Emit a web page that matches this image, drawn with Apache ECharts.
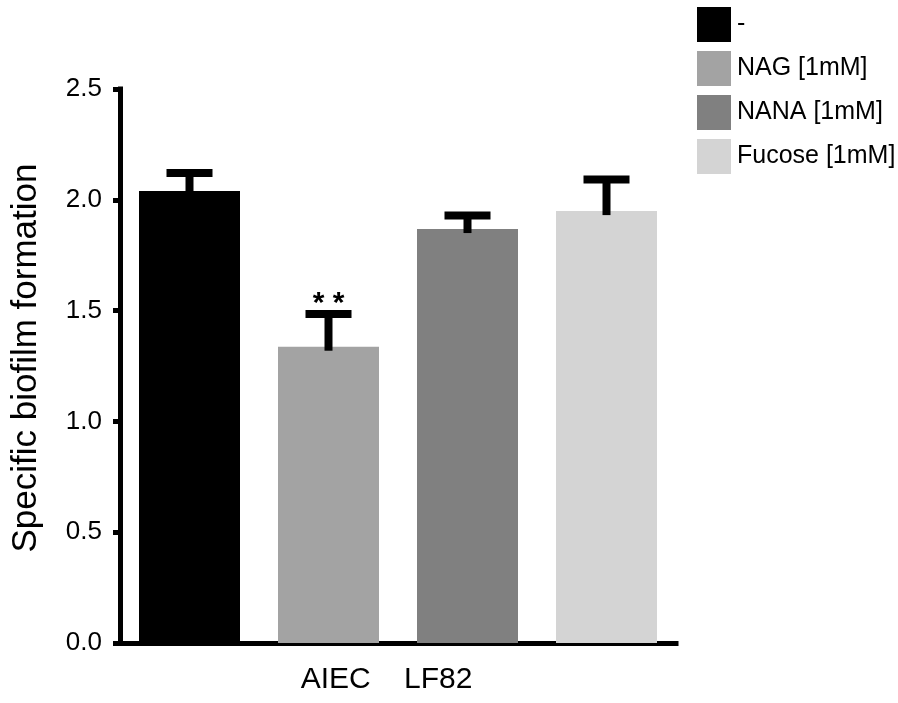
<!DOCTYPE html>
<html>
<head>
<meta charset="utf-8">
<script src="https://cdn.jsdelivr.net/npm/echarts@6/dist/echarts.min.js"></script>
<style>
html,body{margin:0;padding:0;background:#fff;}
#chart{width:898px;height:703px;}
</style>
</head>
<body>
<div id="chart"></div>
<script>
// ---- data ----
var groups = ['-', 'NAG [1mM]', 'NANA [1mM]', 'Fucose [1mM]'];
var means = [2.04, 1.337, 1.868, 1.949];
var errUpper = [0.081, 0.148, 0.061, 0.143];
var annotations = ['', '* *', '', ''];
var xTitle = 'AIEC    LF82';
var yTitle = 'Specific biofilm formation';
var yMin = 0, yMax = 2.5, yInterval = 0.5;

// ---- styles ----
var colors = ['#000000', '#a3a3a3', '#808080', '#d4d4d4'];
var FONT = 'Liberation Sans, Arial, Helvetica, sans-serif';

var chart = echarts.init(document.getElementById('chart'), null, {renderer: 'canvas'});

var barSeries = groups.map(function (g, i) {
  return {
    name: g,
    type: 'bar',
    barWidth: 101,
    barGap: '-100%',
    itemStyle: {color: colors[i]},
    data: groups.map(function (_, j) { return j === i ? means[i] : '-'; }),
    z: 2
  };
});

var errData = means.map(function (m, i) { return [i, m, m + errUpper[i]]; });

var errSeries = {
  type: 'custom',
  name: 'err',
  data: errData,
  z: 5,
  encode: {x: 0, y: 2},
  renderItem: function (params, api) {
    var i = api.value(0);
    var top = api.coord([i, api.value(2)]);
    var base = api.coord([i, api.value(1)]);
    var capW = 46, capH = 8, stemW = 8;
    var children = [
      {type: 'rect', shape: {x: top[0] - stemW / 2, y: top[1], width: stemW, height: base[1] - top[1] + 4}, style: {fill: '#000'}},
      {type: 'rect', shape: {x: top[0] - capW / 2, y: top[1] - capH / 2, width: capW, height: capH}, style: {fill: '#000'}}
    ];
    var ann = annotations[params.dataIndex];
    if (ann) {
      children.push({type: 'text', x: top[0], y: top[1] - 10,
        style: {text: ann, fill: '#000', font: 'bold 30px ' + FONT, align: 'center', verticalAlign: 'middle'}});
    }
    return {type: 'group', children: children};
  }
};

chart.setOption({
  animation: false,
  backgroundColor: '#fff',
  grid: {left: 120, width: 556, top: 89, bottom: 60, containLabel: false},
  legend: {
    data: groups,
    orient: 'vertical',
    left: 692, top: 2,
    itemWidth: 34, itemHeight: 35, itemGap: 9,
    icon: 'rect',
    textStyle: {fontFamily: FONT, fontSize: 25, color: '#000', padding: [0, 0, 0, 1]}
  },
  xAxis: {
    type: 'category',
    data: groups,
    boundaryGap: true,
    axisLine: {lineStyle: {color: '#000', width: 5, cap: 'square'}},
    axisTick: {alignWithLabel: true, length: 7, lineStyle: {color: '#000', width: 5}},
    axisLabel: {show: false},
    splitLine: {show: false},
    name: xTitle,
    nameLocation: 'middle',
    nameGap: 22,
    nameTextStyle: {fontFamily: FONT, fontSize: 30, color: '#000', verticalAlign: 'top', padding: [0, 23, 0, 0]}
  },
  yAxis: {
    type: 'value',
    min: yMin, max: yMax, interval: yInterval,
    axisLine: {show: true, lineStyle: {color: '#000', width: 5, cap: 'square'}},
    axisTick: {show: true, length: 7, lineStyle: {color: '#000', width: 5}},
    axisLabel: {fontFamily: FONT, fontSize: 26, color: '#000', margin: 18,
      formatter: function (v) { return v.toFixed(1); }},
    splitLine: {show: false},
    name: yTitle,
    nameLocation: 'middle',
    nameGap: 76,
    nameRotate: 90,
    nameTextStyle: {fontFamily: FONT, fontSize: 35, color: '#000', padding: [0, 0, 0, 16]}
  },
  series: barSeries.concat([errSeries])
});
</script>
</body>
</html>
